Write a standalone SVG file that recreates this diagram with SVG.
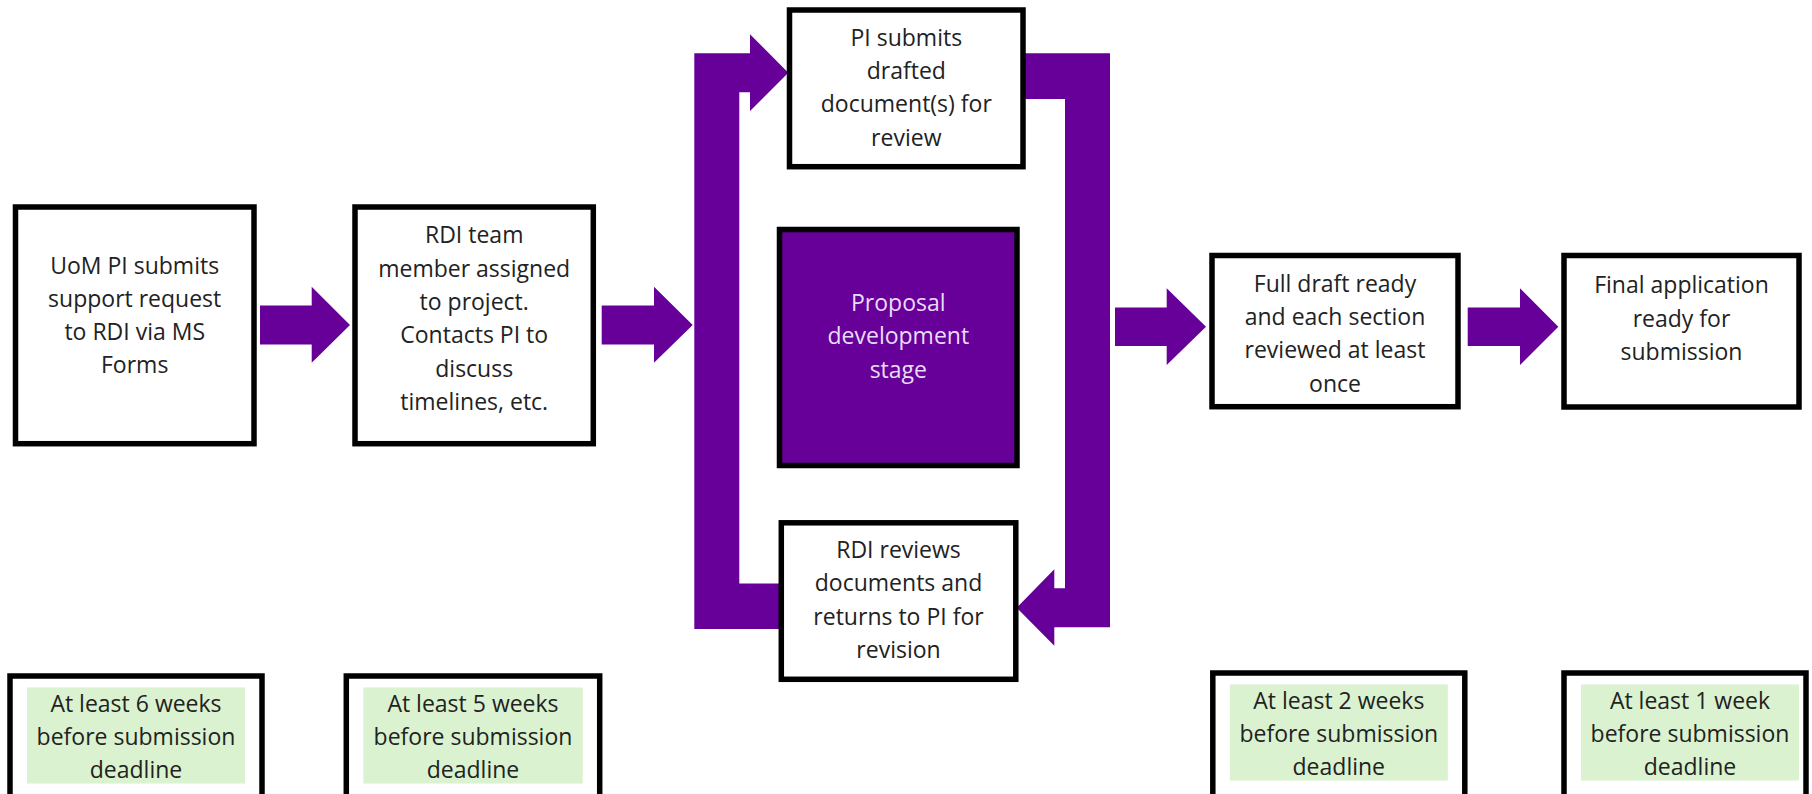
<svg xmlns="http://www.w3.org/2000/svg" width="1812" height="794" viewBox="0 0 1812 794">
  <style>
    .box { fill: #ffffff; stroke: #000000; stroke-width: 5.5; }
    .stage { fill: #660099; stroke: #000000; stroke-width: 5.5; }
    .green { fill: #daf2d0; stroke: none; }
    .arrow { fill: #660099; stroke: none; }
    text { font-family: "Open Sans", "Liberation Sans", sans-serif; font-size: 23px; fill: #222222; text-anchor: middle; }
    .light { fill: #eadcf8; }
  </style>
  <rect x="0" y="0" width="1812" height="794" fill="#ffffff"/>

  <g id="connectors">
    <polygon class="arrow" points="260,305.5 311.7,305.5 311.7,286.7 350,325 311.7,362.7 311.7,344.5 260,344.5"/>
    <polygon class="arrow" points="601.7,305.5 654,305.5 654,286.7 692.7,325 654,362.7 654,344.5 601.7,344.5"/>
    <polygon class="arrow" points="780,583.5 739.3,583.5 739.3,92.3 750,92.3 750,111 788.3,72.7 750,34.3 750,53.3 694.3,53.3 694.3,629 780,629"/>
    <polygon class="arrow" points="1020,53.3 1110,53.3 1110,627.3 1054.3,627.3 1054.3,645.7 1016.7,607.7 1054.3,569.3 1054.3,588.3 1065,588.3 1065,99 1020,99"/>
    <polygon class="arrow" points="1115,307.5 1166.7,307.5 1166.7,288.3 1206,326.7 1166.7,365 1166.7,346 1115,346"/>
    <polygon class="arrow" points="1467.7,307.5 1520,307.5 1520,288.3 1558.3,326.7 1520,365 1520,346 1467.7,346"/>
  </g>

  <g id="node-request">
    <rect class="box" x="15.5" y="207" width="238.5" height="236.7"/>
    <text x="134.7" y="273.5">UoM PI submits</text>
    <text x="134.7" y="306.8">support request</text>
    <text x="134.7" y="340.1">to RDI via MS</text>
    <text x="134.7" y="373.4">Forms</text>
  </g>

  <g id="node-assigned">
    <rect class="box" x="355" y="207" width="238.3" height="236.7"/>
    <text x="474.2" y="243.3">RDI team</text>
    <text x="474.2" y="276.6">member assigned</text>
    <text x="474.2" y="309.9">to project.</text>
    <text x="474.2" y="343.2">Contacts PI to</text>
    <text x="474.2" y="376.5">discuss</text>
    <text x="474.2" y="409.8">timelines, etc.</text>
  </g>

  <g id="node-submit-draft">
    <rect class="box" x="789.5" y="10" width="233.5" height="156.7"/>
    <text x="906.3" y="45.7">PI submits</text>
    <text x="906.3" y="79">drafted</text>
    <text x="906.3" y="112.3">document(s) for</text>
    <text x="906.3" y="145.6">review</text>
  </g>

  <g id="node-stage">
    <rect class="stage" x="779.5" y="229.5" width="237.5" height="236"/>
    <text class="light" x="898.3" y="311">Proposal</text>
    <text class="light" x="898.3" y="344.3">development</text>
    <text class="light" x="898.3" y="377.6">stage</text>
  </g>

  <g id="node-review">
    <rect class="box" x="781.3" y="522.8" width="234.5" height="156.5"/>
    <text x="898.5" y="558">RDI reviews</text>
    <text x="898.5" y="591.3">documents and</text>
    <text x="898.5" y="624.6">returns to PI for</text>
    <text x="898.5" y="657.9">revision</text>
  </g>

  <g id="node-full-draft">
    <rect class="box" x="1212" y="255.5" width="246" height="151.2"/>
    <text x="1335" y="291.7">Full draft ready</text>
    <text x="1335" y="325">and each section</text>
    <text x="1335" y="358.3">reviewed at least</text>
    <text x="1335" y="391.6">once</text>
  </g>

  <g id="node-final">
    <rect class="box" x="1564" y="255.5" width="235" height="151.5"/>
    <text x="1681.5" y="293.3">Final application</text>
    <text x="1681.5" y="326.6">ready for</text>
    <text x="1681.5" y="359.9">submission</text>
  </g>

  <g id="deadline-6">
    <rect class="box" x="10" y="676" width="252" height="130"/>
    <rect class="green" x="27" y="687.5" width="218" height="96"/>
    <text x="136" y="711.7">At least 6 weeks</text>
    <text x="136" y="745">before submission</text>
    <text x="136" y="778.3">deadline</text>
  </g>

  <g id="deadline-5">
    <rect class="box" x="346.3" y="676" width="253.4" height="130"/>
    <rect class="green" x="363.3" y="687.5" width="219.4" height="96"/>
    <text x="473" y="711.7">At least 5 weeks</text>
    <text x="473" y="745">before submission</text>
    <text x="473" y="778.3">deadline</text>
  </g>

  <g id="deadline-2">
    <rect class="box" x="1212.8" y="673" width="252" height="130"/>
    <rect class="green" x="1229.8" y="684.5" width="218" height="96"/>
    <text x="1338.8" y="708.7">At least 2 weeks</text>
    <text x="1338.8" y="742">before submission</text>
    <text x="1338.8" y="775.3">deadline</text>
  </g>

  <g id="deadline-1">
    <rect class="box" x="1564" y="673" width="242" height="130"/>
    <rect class="green" x="1581" y="684.5" width="218" height="96"/>
    <text x="1690" y="708.7">At least 1 week</text>
    <text x="1690" y="742">before submission</text>
    <text x="1690" y="775.3">deadline</text>
  </g>
</svg>
